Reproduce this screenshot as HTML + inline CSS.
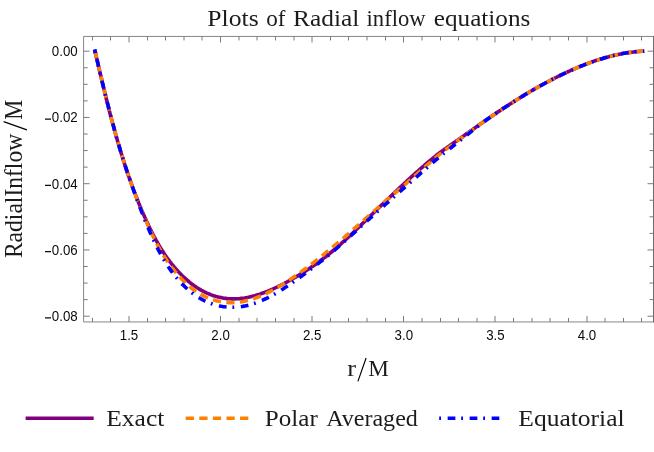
<!DOCTYPE html>
<html><head><meta charset="utf-8"><title>Plots of Radial inflow equations</title>
<style>html,body{margin:0;padding:0;background:#fff;}body{width:654px;height:452px;overflow:hidden;font-family:"Liberation Sans",sans-serif;}svg{display:block;will-change:transform}</style>
</head><body>
<svg width="654" height="452" viewBox="0 0 654 452">
<rect width="654" height="452" fill="#fff"/>
<g fill="none" stroke-width="3.6" stroke-linejoin="round">
<path d="M94.6,49.5L95.0,51.2L95.4,52.7L95.7,54.3L96.1,55.8L96.4,57.3L96.8,58.9L97.2,60.4L97.5,62.0L97.9,63.5L98.2,65.0L98.6,66.6L99.0,68.1L99.3,69.6L99.7,71.2L100.0,72.7L100.4,74.2L100.8,75.8L101.1,77.3L101.5,78.8L101.9,80.4L102.2,81.9L102.6,83.5L103.0,85.0L103.3,86.5L103.7,88.1L104.1,89.6L104.5,91.1L104.8,92.7L105.2,94.2L105.6,95.7L106.0,97.3L106.3,98.8L106.7,100.3L107.1,101.9L107.5,103.4L107.9,104.9L108.3,106.5L108.7,108.0L109.0,109.5L109.4,111.0L109.8,112.6L110.2,114.1L110.6,115.6L111.0,117.2L111.4,118.7L111.8,120.2L112.2,121.7L112.6,123.3L113.1,124.8L113.5,126.3L113.9,127.8L114.3,129.4L114.7,130.9L115.1,132.4L115.6,133.9L116.0,135.4L116.4,137.0L116.9,138.5L117.3,140.0L117.7,141.5L118.2,143.0L118.6,144.5L119.1,146.0L119.5,147.6L120.0,149.1L120.4,150.6L120.9,152.1L121.3,153.6L121.8,155.1L122.3,156.6L122.7,158.1L123.2,159.6L123.7,161.1L124.2,162.6L124.6,164.1L125.1,165.6L125.6,167.1L126.1,168.6L126.6,170.1L127.1,171.6L127.6,173.1L128.1,174.6L128.6,176.1L129.2,177.6L129.7,179.1L130.2,180.6L130.7,182.0L131.3,183.5L131.8,185.0L132.4,186.5L132.9,188.0L133.4,189.4L134.0,190.9L134.6,192.4L135.1,193.9L135.7,195.3L136.3,196.8L136.8,198.3L137.4,199.7L138.0,201.2L138.6,202.7L139.2,204.1L139.8,205.6L140.4,207.0L141.0,208.5L141.6,210.0L142.2,211.4L142.9,212.9L143.5,214.3L144.1,215.8L144.8,217.2L145.4,218.6L146.1,220.1L146.7,221.5L147.4,223.0L148.1,224.4L148.7,225.8L149.4,227.2L150.1,228.7L150.8,230.1L151.5,231.5L152.2,232.9L152.9,234.3L153.7,235.7L154.4,237.1L155.2,238.5L155.9,239.9L156.7,241.3L157.5,242.6L158.2,244.0L159.0,245.4L159.8,246.7L160.7,248.1L161.5,249.4L162.3,250.7L163.2,252.0L164.1,253.4L164.9,254.7L165.8,256.0L166.7,257.3L167.6,258.5L168.6,259.8L169.5,261.1L170.5,262.3L171.4,263.6L172.4,264.8L173.4,266.0L174.4,267.2L175.5,268.4L176.5,269.6L177.6,270.8L178.6,272.0L179.7,273.1L180.8,274.2L182.0,275.4L183.1,276.5L184.3,277.6L185.4,278.7L186.6,279.7L187.8,280.8L189.1,281.8L190.3,282.8L191.5,283.8L192.8,284.7L194.1,285.7L195.4,286.6L196.7,287.5L198.0,288.3L199.4,289.1L200.7,289.9L202.1,290.7L203.5,291.4L204.9,292.1L206.3,292.8L207.7,293.4L209.2,294.0L210.6,294.6L212.1,295.2L213.6,295.7L215.1,296.1L216.6,296.6L218.1,297.0L219.6,297.3L221.1,297.6L222.7,297.9L224.2,298.2L225.7,298.4L227.3,298.6L228.8,298.7L230.4,298.8L232.0,298.9L233.5,298.9L235.1,298.9L236.7,298.8L238.2,298.7L239.8,298.6L241.4,298.4L242.9,298.2L244.5,298.0L246.1,297.7L247.6,297.4L249.2,297.1L250.7,296.7L252.3,296.3L253.8,295.9L255.4,295.5L256.9,295.0L258.4,294.6L259.9,294.1L261.4,293.5L262.9,293.0L264.4,292.5L265.9,291.9L267.4,291.3L268.9,290.7L270.3,290.1L271.8,289.5L273.2,288.8L274.7,288.2L276.1,287.5L277.5,286.8L278.9,286.1L280.4,285.4L281.8,284.7L283.2,284.0L284.6,283.3L285.9,282.5L287.3,281.8L288.7,281.0L290.1,280.3L291.5,279.5L292.8,278.7L294.2,277.9L295.5,277.2L296.9,276.4L298.2,275.6L299.6,274.7L300.9,273.9L302.2,273.1L303.6,272.3L304.9,271.4L306.2,270.6L307.5,269.7L308.8,268.9L310.1,268.0L311.4,267.1L312.7,266.2L314.0,265.4L315.3,264.5L316.5,263.5L317.8,262.6L319.1,261.7L320.3,260.8L321.6,259.8L322.8,258.9L324.1,257.9L325.3,257.0L326.6,256.0L327.8,255.0L329.0,254.0L330.2,253.0L331.5,252.0L332.7,251.0L333.9,250.0L335.1,249.0L336.3,247.9L337.5,246.9L338.7,245.9L339.9,244.8L341.0,243.8L342.2,242.7L343.4,241.6L344.6,240.6L345.8,239.5L346.9,238.4L348.1,237.3L349.3,236.3L350.4,235.2L351.6,234.1L352.7,233.0L353.9,231.9L355.0,230.8L356.2,229.7L357.3,228.6L358.5,227.5L359.6,226.4L360.7,225.3L361.9,224.2L363.0,223.1L364.2,222.0L365.3,220.9L366.4,219.8L367.6,218.7L368.7,217.6L369.8,216.5L371.0,215.4L372.1,214.3L373.2,213.2L374.3,212.1L375.5,211.0L376.6,209.9L377.7,208.8L378.8,207.7L380.0,206.7L381.1,205.6L382.2,204.5L383.3,203.4L384.5,202.3L385.6,201.2L386.7,200.1L387.9,199.0L389.0,198.0L390.1,196.9L391.3,195.8L392.4,194.7L393.5,193.6L394.7,192.6L395.8,191.5L396.9,190.4L398.1,189.3L399.2,188.2L400.4,187.2L401.5,186.1L402.7,185.0L403.8,183.9L405.0,182.9L406.1,181.8L407.3,180.7L408.5,179.6L409.6,178.6L410.8,177.5L412.0,176.4L413.1,175.4L414.3,174.3L415.5,173.2L416.7,172.1L417.9,171.1L419.1,170.0L420.3,168.9L421.5,167.9L422.7,166.8L423.9,165.8L425.1,164.7L426.3,163.7L427.5,162.6L428.7,161.6L429.9,160.6L431.2,159.6L432.4,158.6L433.6,157.6L434.9,156.6L436.1,155.6L437.3,154.6L438.6,153.7L439.8,152.7L441.1,151.8L442.3,150.9L443.6,150.0L444.9,149.1L446.1,148.2L447.4,147.3L448.6,146.4L449.9,145.5L451.2,144.6L452.5,143.7L453.7,142.8L455.0,142.0L456.3,141.1L457.6,140.2L458.8,139.3L460.1,138.4L461.4,137.5L462.7,136.6L464.0,135.7L465.2,134.8L466.5,133.8L467.8,132.9L469.1,132.0L470.4,131.1L471.7,130.2L473.0,129.3L474.2,128.4L475.5,127.5L476.8,126.6L478.1,125.6L479.4,124.7L480.7,123.8L482.0,122.9L483.3,122.0L484.6,121.1L485.9,120.2L487.2,119.3L488.5,118.4L489.8,117.5L491.1,116.6L492.5,115.7L493.8,114.8L495.1,113.9L496.4,113.0L497.7,112.1L499.0,111.3L500.3,110.4L501.7,109.5L503.0,108.6L504.3,107.8L505.6,106.9L507.0,106.0L508.3,105.2L509.6,104.3L511.0,103.4L512.3,102.6L513.6,101.7L515.0,100.9L516.3,100.0L517.6,99.2L519.0,98.4L520.3,97.5L521.7,96.7L523.0,95.9L524.4,95.1L525.7,94.2L527.1,93.4L528.4,92.6L529.8,91.8L531.2,91.0L532.5,90.2L533.9,89.4L535.3,88.6L536.6,87.9L538.0,87.1L539.4,86.3L540.8,85.5L542.2,84.8L543.5,84.0L544.9,83.3L546.3,82.5L547.7,81.8L549.1,81.1L550.5,80.3L551.9,79.6L553.3,78.9L554.7,78.2L556.1,77.5L557.5,76.7L558.9,76.1L560.3,75.4L561.8,74.7L563.2,74.0L564.6,73.3L566.0,72.7L567.4,72.0L568.9,71.3L570.3,70.7L571.7,70.0L573.2,69.4L574.6,68.8L576.1,68.2L577.5,67.5L579.0,66.9L580.4,66.3L581.9,65.8L583.4,65.2L584.8,64.6L586.3,64.0L587.8,63.5L589.2,62.9L590.7,62.4L592.2,61.9L593.7,61.3L595.2,60.8L596.6,60.3L598.1,59.9L599.6,59.4L601.1,58.9L602.6,58.5L604.1,58.0L605.7,57.6L607.2,57.2L608.7,56.7L610.2,56.3L611.7,56.0L613.3,55.6L614.8,55.2L616.3,54.9L617.9,54.5L619.4,54.2L621.0,53.9L622.5,53.6L624.1,53.3L625.6,53.1L627.2,52.8L628.8,52.6L630.3,52.4L631.9,52.2L633.5,52.0L635.1,51.8L636.7,51.6L638.2,51.5L639.8,51.4L641.4,51.3L642.5,51.2L644.2,51.1" stroke="#800080"/>
<path d="M94.6,49.5L95.0,51.2L95.4,52.7L95.7,54.3L96.1,55.8L96.4,57.3L96.8,58.9L97.2,60.4L97.5,62.0L97.9,63.5L98.2,65.0L98.6,66.6L99.0,68.1L99.3,69.6L99.7,71.2L100.0,72.7L100.4,74.2L100.8,75.8L101.1,77.3L101.5,78.8L101.9,80.4L102.2,81.9L102.6,83.5L103.0,85.0L103.3,86.5L103.7,88.1L104.1,89.6L104.5,91.1L104.8,92.7L105.2,94.2L105.6,95.7L106.0,97.3L106.3,98.8L106.7,100.3L107.1,101.9L107.5,103.4L107.9,104.9L108.3,106.5L108.7,108.0L109.0,109.5L109.4,111.0L109.8,112.6L110.2,114.1L110.6,115.6L111.0,117.2L111.4,118.7L111.8,120.2L112.2,121.7L112.6,123.3L113.1,124.8L113.5,126.3L113.9,127.8L114.3,129.4L114.7,130.9L115.1,132.4L115.6,133.9L116.0,135.4L116.4,137.0L116.9,138.5L117.3,140.0L117.7,141.5L118.2,143.0L118.6,144.5L119.1,146.0L119.5,147.6L120.0,149.1L120.4,150.6L120.9,152.1L121.3,153.6L121.8,155.1L122.3,156.6L122.7,158.1L123.2,159.6L123.7,161.1L124.2,162.6L124.6,164.1L125.1,165.6L125.6,167.1L126.1,168.6L126.6,170.1L127.1,171.6L127.6,173.1L128.1,174.6L128.6,176.1L129.1,177.6L129.7,179.1L130.2,180.6L130.7,182.0L131.2,183.5L131.8,185.0L132.3,186.5L132.8,188.0L133.4,189.5L133.9,191.0L134.5,192.4L135.0,193.9L135.6,195.4L136.1,196.9L136.7,198.3L137.3,199.8L137.8,201.3L138.4,202.7L139.0,204.2L139.6,205.7L140.1,207.2L140.7,208.6L141.3,210.1L141.9,211.5L142.5,213.0L143.1,214.5L143.8,215.9L144.4,217.4L145.0,218.8L145.6,220.3L146.3,221.7L146.9,223.2L147.5,224.6L148.2,226.1L148.8,227.5L149.5,229.0L150.2,230.4L150.8,231.8L151.5,233.3L152.2,234.7L152.9,236.1L153.6,237.5L154.3,239.0L155.0,240.4L155.8,241.8L156.5,243.2L157.3,244.6L158.0,246.0L158.8,247.3L159.6,248.7L160.4,250.1L161.2,251.5L162.0,252.8L162.8,254.2L163.6,255.5L164.5,256.9L165.4,258.2L166.2,259.6L167.1,260.9L168.0,262.2L168.9,263.5L169.9,264.8L170.8,266.1L171.8,267.4L172.7,268.7L173.7,269.9L174.7,271.2L175.8,272.4L176.8,273.7L177.9,274.9L178.9,276.1L180.0,277.3L181.1,278.5L182.3,279.7L183.4,280.9L184.6,282.0L185.8,283.2L187.0,284.3L188.2,285.4L189.5,286.4L190.8,287.5L192.1,288.5L193.4,289.5L194.7,290.5L196.1,291.4L197.4,292.3L198.8,293.2L200.3,294.1L201.7,294.9L203.2,295.7L204.6,296.4L206.1,297.1L207.7,297.8L209.2,298.4L210.7,299.0L212.3,299.5L213.9,300.0L215.5,300.5L217.1,300.9L218.7,301.3L220.3,301.6L221.9,301.9L223.6,302.1L225.2,302.3L226.9,302.5L228.5,302.6L230.2,302.7L231.9,302.7L233.5,302.6L235.2,302.5L236.8,302.4L238.5,302.2L240.1,302.0L241.8,301.8L243.4,301.4L245.0,301.1L246.6,300.7L248.2,300.3L249.8,299.9L251.4,299.4L253.0,298.9L254.5,298.4L256.0,297.8L257.6,297.2L259.1,296.6L260.6,296.0L262.1,295.4L263.6,294.7L265.0,294.1L266.5,293.4L267.9,292.7L269.4,291.9L270.8,291.2L272.2,290.4L273.6,289.7L275.0,288.9L276.4,288.1L277.7,287.3L279.1,286.5L280.5,285.7L281.8,284.8L283.2,284.0L284.5,283.2L285.8,282.3L287.1,281.4L288.5,280.6L289.8,279.7L291.1,278.8L292.4,278.0L293.7,277.1L295.0,276.2L296.3,275.3L297.5,274.4L298.8,273.5L300.1,272.6L301.3,271.7L302.6,270.8L303.9,269.8L305.1,268.9L306.4,268.0L307.6,267.1L308.9,266.1L310.1,265.2L311.3,264.3L312.6,263.3L313.8,262.4L315.0,261.4L316.2,260.5L317.5,259.5L318.7,258.5L319.9,257.6L321.1,256.6L322.3,255.6L323.5,254.7L324.7,253.7L325.9,252.7L327.1,251.7L328.4,250.7L329.6,249.7L330.8,248.7L332.0,247.7L333.2,246.7L334.4,245.7L335.6,244.7L336.8,243.7L338.0,242.7L339.2,241.7L340.4,240.7L341.6,239.6L342.8,238.6L344.0,237.6L345.2,236.5L346.4,235.5L347.6,234.5L348.8,233.4L350.0,232.4L351.2,231.3L352.4,230.3L353.5,229.3L354.7,228.2L355.9,227.2L357.1,226.1L358.3,225.1L359.5,224.0L360.7,223.0L361.9,221.9L363.0,220.8L364.2,219.8L365.4,218.7L366.6,217.7L367.8,216.7L369.0,215.6L370.1,214.6L371.3,213.5L372.5,212.5L373.7,211.5L374.9,210.4L376.1,209.4L377.2,208.3L378.4,207.3L379.6,206.3L380.8,205.3L382.0,204.2L383.2,203.2L384.4,202.2L385.6,201.2L386.8,200.1L387.9,199.1L389.1,198.1L390.3,197.1L391.5,196.1L392.7,195.0L393.9,194.0L395.1,193.0L396.3,192.0L397.5,191.0L398.7,189.9L399.9,188.9L401.1,187.9L402.3,186.9L403.4,185.8L404.6,184.8L405.8,183.8L407.0,182.7L408.2,181.7L409.4,180.7L410.6,179.6L411.8,178.6L413.0,177.5L414.2,176.5L415.4,175.4L416.6,174.4L417.8,173.3L418.9,172.3L420.1,171.2L421.3,170.2L422.5,169.1L423.7,168.0L424.9,167.0L426.1,165.9L427.3,164.9L428.5,163.8L429.7,162.8L430.9,161.7L432.1,160.7L433.3,159.7L434.5,158.6L435.7,157.6L436.9,156.6L438.1,155.6L439.3,154.6L440.5,153.7L441.7,152.7L443.0,151.7L444.2,150.8L445.4,149.9L446.6,148.9L447.9,148.0L449.1,147.1L450.4,146.1L451.6,145.2L452.8,144.3L454.1,143.4L455.3,142.4L456.6,141.5L457.8,140.6L459.1,139.7L460.4,138.7L461.6,137.8L462.9,136.9L464.1,135.9L465.4,135.0L466.7,134.1L467.9,133.1L469.2,132.2L470.5,131.3L471.8,130.3L473.0,129.4L474.3,128.5L475.6,127.5L476.9,126.6L478.2,125.7L479.4,124.8L480.7,123.8L482.0,122.9L483.3,122.0L484.6,121.1L485.9,120.2L487.2,119.3L488.5,118.4L489.8,117.5L491.1,116.6L492.5,115.7L493.8,114.8L495.1,113.9L496.4,113.0L497.7,112.1L499.0,111.3L500.3,110.4L501.7,109.5L503.0,108.6L504.3,107.8L505.6,106.9L507.0,106.0L508.3,105.2L509.6,104.3L511.0,103.4L512.3,102.6L513.6,101.7L515.0,100.9L516.3,100.0L517.6,99.2L519.0,98.4L520.3,97.5L521.7,96.7L523.0,95.9L524.4,95.1L525.7,94.2L527.1,93.4L528.4,92.6L529.8,91.8L531.2,91.0L532.5,90.2L533.9,89.4L535.3,88.6L536.6,87.9L538.0,87.1L539.4,86.3L540.8,85.5L542.2,84.8L543.5,84.0L544.9,83.3L546.3,82.5L547.7,81.8L549.1,81.1L550.5,80.3L551.9,79.6L553.3,78.9L554.7,78.2L556.1,77.5L557.5,76.7L558.9,76.1L560.3,75.4L561.8,74.7L563.2,74.0L564.6,73.3L566.0,72.7L567.4,72.0L568.9,71.3L570.3,70.7L571.7,70.0L573.2,69.4L574.6,68.8L576.1,68.2L577.5,67.5L579.0,66.9L580.4,66.3L581.9,65.8L583.4,65.2L584.8,64.6L586.3,64.0L587.8,63.5L589.2,62.9L590.7,62.4L592.2,61.9L593.7,61.3L595.2,60.8L596.6,60.3L598.1,59.9L599.6,59.4L601.1,58.9L602.6,58.5L604.1,58.0L605.7,57.6L607.2,57.2L608.7,56.7L610.2,56.3L611.7,56.0L613.3,55.6L614.8,55.2L616.3,54.9L617.9,54.5L619.4,54.2L621.0,53.9L622.5,53.6L624.1,53.3L625.6,53.1L627.2,52.8L628.8,52.6L630.3,52.4L631.9,52.2L633.5,52.0L635.1,51.8L636.7,51.6L638.2,51.5L639.8,51.4L641.4,51.3L642.5,51.2L644.2,51.1" stroke="#ff8000" stroke-dasharray="8.25 5.34" stroke-dashoffset="-0.5"/>
<path d="M94.6,49.5L95.0,51.2L95.4,52.7L95.7,54.3L96.1,55.8L96.4,57.3L96.8,58.9L97.2,60.4L97.5,62.0L97.9,63.5L98.2,65.0L98.6,66.6L99.0,68.1L99.3,69.6L99.7,71.2L100.0,72.7L100.4,74.2L100.8,75.8L101.1,77.3L101.5,78.8L101.9,80.4L102.2,81.9L102.6,83.5L103.0,85.0L103.3,86.5L103.7,88.1L104.1,89.6L104.5,91.1L104.8,92.7L105.2,94.2L105.6,95.7L106.0,97.3L106.3,98.8L106.7,100.3L107.1,101.9L107.5,103.4L107.9,104.9L108.3,106.5L108.7,108.0L109.0,109.5L109.4,111.0L109.8,112.6L110.2,114.1L110.6,115.6L111.0,117.2L111.4,118.7L111.8,120.2L112.2,121.7L112.6,123.3L113.1,124.8L113.5,126.3L113.9,127.8L114.3,129.4L114.7,130.9L115.1,132.4L115.6,133.9L116.0,135.4L116.4,137.0L116.9,138.5L117.3,140.0L117.7,141.5L118.2,143.0L118.6,144.5L119.1,146.0L119.5,147.6L120.0,149.1L120.4,150.6L120.9,152.1L121.3,153.6L121.8,155.1L122.3,156.6L122.8,158.1L123.2,159.6L123.7,161.1L124.2,162.6L124.7,164.1L125.2,165.6L125.7,167.1L126.1,168.6L126.6,170.1L127.1,171.6L127.6,173.1L128.1,174.6L128.6,176.1L129.2,177.6L129.7,179.1L130.2,180.6L130.7,182.1L131.2,183.5L131.7,185.0L132.3,186.5L132.8,188.0L133.3,189.5L133.8,191.0L134.4,192.5L134.9,193.9L135.5,195.4L136.0,196.9L136.5,198.4L137.1,199.9L137.7,201.3L138.2,202.8L138.8,204.3L139.3,205.8L139.9,207.3L140.5,208.7L141.0,210.2L141.6,211.7L142.2,213.2L142.8,214.6L143.3,216.1L143.9,217.6L144.5,219.0L145.1,220.5L145.7,222.0L146.3,223.5L146.9,224.9L147.5,226.4L148.2,227.9L148.8,229.3L149.4,230.8L150.0,232.2L150.7,233.7L151.3,235.2L152.0,236.6L152.6,238.1L153.3,239.5L154.0,241.0L154.7,242.4L155.4,243.8L156.1,245.3L156.8,246.7L157.5,248.1L158.2,249.6L159.0,251.0L159.7,252.4L160.5,253.8L161.3,255.2L162.0,256.6L162.8,258.0L163.7,259.4L164.5,260.8L165.3,262.2L166.2,263.6L167.1,264.9L168.0,266.3L168.9,267.6L169.8,269.0L170.8,270.3L171.7,271.7L172.7,273.0L173.7,274.3L174.7,275.6L175.8,276.9L176.9,278.2L177.9,279.4L179.0,280.7L180.2,282.0L181.3,283.2L182.5,284.4L183.7,285.6L184.9,286.8L186.2,288.0L187.4,289.1L188.7,290.2L190.0,291.3L191.4,292.4L192.7,293.5L194.1,294.5L195.5,295.5L197.0,296.5L198.4,297.4L199.9,298.3L201.5,299.2L203.0,300.0L204.6,300.8L206.1,301.5L207.8,302.2L209.4,302.9L211.0,303.5L212.7,304.1L214.3,304.6L216.0,305.1L217.7,305.5L219.4,305.9L221.2,306.3L222.9,306.6L224.7,306.8L226.4,307.0L228.2,307.2L230.0,307.3L231.7,307.3L233.5,307.3L235.3,307.2L237.1,307.1L238.8,306.9L240.6,306.7L242.3,306.4L244.1,306.1L245.8,305.8L247.5,305.4L249.2,305.0L250.8,304.5L252.5,304.0L254.1,303.5L255.8,302.9L257.4,302.3L258.9,301.7L260.5,301.1L262.1,300.4L263.6,299.7L265.1,299.0L266.6,298.3L268.1,297.6L269.6,296.8L271.0,296.0L272.5,295.2L273.9,294.4L275.4,293.6L276.8,292.8L278.2,292.0L279.6,291.1L281.0,290.3L282.3,289.4L283.7,288.5L285.0,287.6L286.4,286.7L287.7,285.8L289.0,284.9L290.4,284.0L291.7,283.1L293.0,282.2L294.3,281.3L295.6,280.4L296.9,279.4L298.2,278.5L299.5,277.6L300.7,276.7L302.0,275.7L303.3,274.8L304.6,273.9L305.8,272.9L307.1,272.0L308.4,271.0L309.6,270.1L310.9,269.2L312.1,268.2L313.4,267.2L314.6,266.3L315.9,265.3L317.1,264.4L318.4,263.4L319.6,262.4L320.8,261.4L322.1,260.5L323.3,259.5L324.5,258.5L325.7,257.5L326.9,256.5L328.2,255.5L329.4,254.5L330.6,253.4L331.8,252.4L333.0,251.4L334.2,250.4L335.4,249.3L336.6,248.3L337.8,247.3L339.0,246.2L340.2,245.2L341.4,244.1L342.6,243.1L343.8,242.0L344.9,241.0L346.1,239.9L347.3,238.9L348.5,237.8L349.7,236.7L350.9,235.7L352.0,234.6L353.2,233.5L354.4,232.5L355.6,231.4L356.8,230.3L357.9,229.3L359.1,228.2L360.3,227.1L361.5,226.0L362.6,225.0L363.8,223.9L365.0,222.8L366.1,221.8L367.3,220.7L368.5,219.7L369.7,218.6L370.8,217.5L372.0,216.5L373.2,215.4L374.3,214.4L375.5,213.3L376.7,212.3L377.8,211.2L379.0,210.2L380.2,209.1L381.3,208.1L382.5,207.0L383.7,206.0L384.8,204.9L386.0,203.9L387.2,202.9L388.4,201.8L389.5,200.8L390.7,199.7L391.9,198.7L393.0,197.7L394.2,196.6L395.4,195.6L396.6,194.5L397.7,193.5L398.9,192.5L400.1,191.4L401.3,190.4L402.4,189.4L403.6,188.3L404.8,187.3L406.0,186.2L407.2,185.2L408.3,184.2L409.5,183.1L410.7,182.1L411.9,181.0L413.1,180.0L414.3,179.0L415.5,177.9L416.7,176.9L417.8,175.8L419.0,174.8L420.2,173.7L421.4,172.6L422.6,171.6L423.8,170.5L425.0,169.5L426.2,168.4L427.4,167.4L428.6,166.3L429.7,165.3L430.9,164.2L432.1,163.2L433.3,162.2L434.5,161.2L435.7,160.1L436.9,159.1L438.1,158.1L439.3,157.1L440.4,156.1L441.6,155.2L442.8,154.2L444.0,153.2L445.2,152.3L446.4,151.3L447.6,150.3L448.9,149.4L450.1,148.4L451.3,147.5L452.5,146.5L453.7,145.6L454.9,144.6L456.2,143.6L457.4,142.7L458.6,141.7L459.8,140.7L461.1,139.7L462.3,138.7L463.5,137.8L464.7,136.8L466.0,135.8L467.2,134.8L468.4,133.8L469.6,132.8L470.9,131.8L472.1,130.8L473.4,129.9L474.6,128.9L475.8,127.9L477.1,126.9L478.3,126.0L479.6,125.0L480.9,124.0L482.1,123.1L483.4,122.1L484.7,121.2L486.0,120.2L487.2,119.3L488.5,118.4L489.8,117.5L491.1,116.6L492.5,115.7L493.8,114.8L495.1,113.9L496.4,113.0L497.7,112.1L499.0,111.3L500.3,110.4L501.7,109.5L503.0,108.6L504.3,107.8L505.6,106.9L507.0,106.0L508.3,105.2L509.6,104.3L511.0,103.4L512.3,102.6L513.6,101.7L515.0,100.9L516.3,100.0L517.6,99.2L519.0,98.4L520.3,97.5L521.7,96.7L523.0,95.9L524.4,95.1L525.7,94.2L527.1,93.4L528.4,92.6L529.8,91.8L531.2,91.0L532.5,90.2L533.9,89.4L535.3,88.6L536.6,87.9L538.0,87.1L539.4,86.3L540.8,85.5L542.2,84.8L543.5,84.0L544.9,83.3L546.3,82.5L547.7,81.8L549.1,81.1L550.5,80.3L551.9,79.6L553.3,78.9L554.7,78.2L556.1,77.5L557.5,76.7L558.9,76.1L560.3,75.4L561.8,74.7L563.2,74.0L564.6,73.3L566.0,72.7L567.4,72.0L568.9,71.3L570.3,70.7L571.7,70.0L573.2,69.4L574.6,68.8L576.1,68.2L577.5,67.5L579.0,66.9L580.4,66.3L581.9,65.8L583.4,65.2L584.8,64.6L586.3,64.0L587.8,63.5L589.2,62.9L590.7,62.4L592.2,61.9L593.7,61.3L595.2,60.8L596.6,60.3L598.1,59.9L599.6,59.4L601.1,58.9L602.6,58.5L604.1,58.0L605.7,57.6L607.2,57.2L608.7,56.7L610.2,56.3L611.7,56.0L613.3,55.6L614.8,55.2L616.3,54.9L617.9,54.5L619.4,54.2L621.0,53.9L622.5,53.6L624.1,53.3L625.6,53.1L627.2,52.8L628.8,52.6L630.3,52.4L631.9,52.2L633.5,52.0L635.1,51.8L636.7,51.6L638.2,51.5L639.8,51.4L641.4,51.3L642.5,51.2L644.2,51.1" stroke="#0000ff" stroke-dasharray="1.81 6.65 7.7 5.84" stroke-dashoffset="-1.6"/>
<path d="M94.6,49.5L95.5,53.1" stroke="#0000ff"/>
</g>
<g stroke-width="1" fill="none">
<path d="M83.6,321.95V36.45H653.5M83.6,321.95H653.5" stroke="#868686"/>
<path d="M653.5,35.95V322.45" stroke="#6c6c6c"/>
<path d="M92.5,321.95v-4.0M92.5,36.45v4.0M110.5,321.95v-4.0M110.5,36.45v4.0M129.0,321.95v-6.0M129.0,36.45v6.0M147.5,321.95v-4.0M147.5,36.45v4.0M165.5,321.95v-4.0M165.5,36.45v4.0M184.0,321.95v-4.0M184.0,36.45v4.0M202.0,321.95v-4.0M202.0,36.45v4.0M220.5,321.95v-6.0M220.5,36.45v6.0M239.0,321.95v-4.0M239.0,36.45v4.0M257.0,321.95v-4.0M257.0,36.45v4.0M275.5,321.95v-4.0M275.5,36.45v4.0M294.0,321.95v-4.0M294.0,36.45v4.0M312.0,321.95v-6.0M312.0,36.45v6.0M330.5,321.95v-4.0M330.5,36.45v4.0M348.5,321.95v-4.0M348.5,36.45v4.0M367.0,321.95v-4.0M367.0,36.45v4.0M385.5,321.95v-4.0M385.5,36.45v4.0M403.5,321.95v-6.0M403.5,36.45v6.0M422.0,321.95v-4.0M422.0,36.45v4.0M440.5,321.95v-4.0M440.5,36.45v4.0M458.5,321.95v-4.0M458.5,36.45v4.0M477.0,321.95v-4.0M477.0,36.45v4.0M495.0,321.95v-6.0M495.0,36.45v6.0M513.5,321.95v-4.0M513.5,36.45v4.0M532.0,321.95v-4.0M532.0,36.45v4.0M550.0,321.95v-4.0M550.0,36.45v4.0M568.5,321.95v-4.0M568.5,36.45v4.0M587.0,321.95v-6.0M587.0,36.45v6.0M605.0,321.95v-4.0M605.0,36.45v4.0M623.5,321.95v-4.0M623.5,36.45v4.0M641.5,321.95v-4.0M641.5,36.45v4.0M83.6,51.2h6.0M653.5,51.2h-6.0M83.6,67.76h4.0M653.5,67.76h-4.0M83.6,84.33h4.0M653.5,84.33h-4.0M83.6,100.89h4.0M653.5,100.89h-4.0M83.6,117.45h6.0M653.5,117.45h-6.0M83.6,134.01h4.0M653.5,134.01h-4.0M83.6,150.57h4.0M653.5,150.57h-4.0M83.6,167.14h4.0M653.5,167.14h-4.0M83.6,183.7h6.0M653.5,183.7h-6.0M83.6,200.26h4.0M653.5,200.26h-4.0M83.6,216.82h4.0M653.5,216.82h-4.0M83.6,233.39h4.0M653.5,233.39h-4.0M83.6,249.95h6.0M653.5,249.95h-6.0M83.6,266.51h4.0M653.5,266.51h-4.0M83.6,283.08h4.0M653.5,283.08h-4.0M83.6,299.64h4.0M653.5,299.64h-4.0M83.6,316.2h6.0M653.5,316.2h-6.0" stroke="#7a7a7a"/>
</g>
<g font-family="Liberation Sans, sans-serif" font-size="15.2" fill="#0a0a0a">
<text transform="translate(129.00,339.7) scale(0.875,1)" text-anchor="middle">1.5</text>
<text transform="translate(220.60,339.7) scale(0.875,1)" text-anchor="middle">2.0</text>
<text transform="translate(312.20,339.7) scale(0.875,1)" text-anchor="middle">2.5</text>
<text transform="translate(403.80,339.7) scale(0.875,1)" text-anchor="middle">3.0</text>
<text transform="translate(495.40,339.7) scale(0.875,1)" text-anchor="middle">3.5</text>
<text transform="translate(587.00,339.7) scale(0.875,1)" text-anchor="middle">4.0</text>
<text transform="translate(77.7,56.00) scale(0.875,1)" text-anchor="end">0.00</text>
<text transform="translate(77.7,122.25) scale(0.875,1)" text-anchor="end">0.02</text>
<text transform="translate(77.7,188.50) scale(0.875,1)" text-anchor="end">0.04</text>
<text transform="translate(77.7,254.75) scale(0.875,1)" text-anchor="end">0.06</text>
<text transform="translate(77.7,321.00) scale(0.875,1)" text-anchor="end">0.08</text>
<path d="M45.0,119.05H51.0M45.0,185.30H51.0M45.0,251.55H51.0M45.0,317.80H51.0" stroke="#0a0a0a" stroke-width="1.2" fill="none"/>
</g>
<g font-family="Liberation Serif, serif" font-size="23.5" fill="#1c1c1c">
<text x="207.36" y="26.00" textLength="51.33" lengthAdjust="spacingAndGlyphs">Plots</text>
<text x="266.16" y="26.00" textLength="19.25" lengthAdjust="spacingAndGlyphs">of</text>
<text x="293.10" y="26.00" textLength="66.17" lengthAdjust="spacingAndGlyphs">Radial</text>
<text x="366.60" y="26.00" textLength="58.98" lengthAdjust="spacingAndGlyphs">inflow</text>
<text x="433.80" y="26.00" textLength="96.51" lengthAdjust="spacingAndGlyphs">equations</text>
<text x="106.22" y="426.20" textLength="58.12" lengthAdjust="spacingAndGlyphs">Exact</text>
<text x="264.81" y="426.20" textLength="52.95" lengthAdjust="spacingAndGlyphs">Polar</text>
<text x="326.18" y="426.20" textLength="91.66" lengthAdjust="spacingAndGlyphs">Averaged</text>
<text x="518.38" y="426.20" textLength="106.17" lengthAdjust="spacingAndGlyphs">Equatorial</text>
<text x="347.33" y="375.60" textLength="8.81" lengthAdjust="spacingAndGlyphs">r</text>
<text x="368.19" y="375.60" textLength="20.63" lengthAdjust="spacingAndGlyphs">M</text>
<text transform="translate(21.90,258.10) rotate(-90)" font-size="25.6" textLength="124.32" lengthAdjust="spacingAndGlyphs">RadialInflow</text>
<text transform="translate(21.90,119.84) rotate(-90)" font-size="25.6" textLength="19.96" lengthAdjust="spacingAndGlyphs">M</text>
</g>
<path d="M357.9,381.4L366.1,358.0M26.9,129.9L3.6,121.6" stroke="#000" stroke-width="1.15" fill="none"/>
<g fill="none" stroke-width="3.6">
<path d="M25.6,418.3H93.7" stroke="#800080"/>
<path d="M185.7,418.3H250" stroke="#ff8000" stroke-dasharray="8.25 5.34"/>
<path d="M439.2,418.3H499.3" stroke="#0000ff" stroke-dasharray="1.81 6.65 7.7 5.84"/>
</g>
</svg>
</body></html>
